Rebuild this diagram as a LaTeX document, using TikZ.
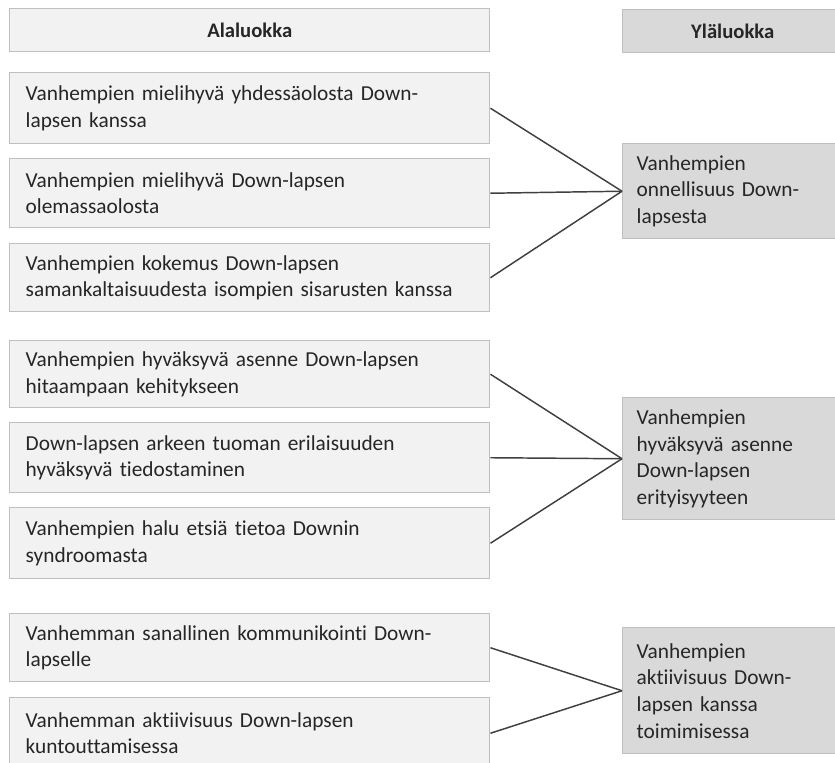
\documentclass[tikz,border=0pt]{standalone}
\usepackage{fontspec}
\setmainfont{Carlito}[Ligatures={NoCommon}]
\definecolor{alafill}{HTML}{F2F2F2}
\definecolor{ylafill}{HTML}{D9D9D9}
\definecolor{reuna}{HTML}{BFBFBF}
\definecolor{viiva}{HTML}{404040}
\tikzset{
  ala/.style={draw=reuna, line width=1.1pt, fill=alafill, anchor=north west,
    text width=336pt, inner xsep=12pt, inner ysep=0pt, align=left, text=black!85,
    font=\fontsize{16pt}{20pt}\selectfont},
  yla/.style={ala, fill=ylafill, text width=144pt, inner xsep=10.5pt},
  otsikko/.style={align=center, font=\fontsize{15.5pt}{20pt}\selectfont\bfseries},
  yhteys/.style={viiva, line width=1.1pt}
}
\begin{document}
\begin{tikzpicture}[x=0.75pt,y=-0.75pt]
\path[use as bounding box, clip] (0,0) rectangle (835,763);
\fill[white] (0,0) rectangle (835,763);
% otsikot
\node[ala, otsikko, minimum height=32.25pt] (ala) at (9,8) {Alaluokka};
\node[yla, otsikko, minimum height=32.25pt] (yla) at (622,9) {Yläluokka};
% alaluokat
\node[ala, minimum height=53.25pt] (b1) at (9,72) {Vanhempien mielihyvä yhdessäolosta Down-\\lapsen kanssa};
\node[ala, minimum height=51.75pt] (b2) at (9,158) {Vanhempien mielihyvä Down-lapsen\\olemassaolosta};
\node[ala, minimum height=51pt] (b3) at (9,243) {Vanhempien kokemus Down-lapsen\\samankaltaisuudesta isompien sisarusten kanssa};
\node[ala, minimum height=50.25pt] (b4) at (9,340) {Vanhempien hyväksyvä asenne Down-lapsen\\hitaampaan kehitykseen};
\node[ala, minimum height=52.5pt] (b5) at (9,422) {Down-lapsen arkeen tuoman erilaisuuden\\hyväksyvä tiedostaminen};
\node[ala, minimum height=53.25pt] (b6) at (9,507) {Vanhempien halu etsiä tietoa Downin\\syndroomasta};
\node[ala, minimum height=51pt] (b7) at (9,613) {Vanhemman sanallinen kommunikointi Down-\\lapselle};
\node[ala, minimum height=53.25pt] (b8) at (9,697) {Vanhemman aktiivisuus Down-lapsen\\kuntouttamisessa};
% yläluokat
\node[yla, minimum height=71.25pt] (y1) at (622,143) {Vanhempien\\onnellisuus Down-\\lapsesta};
\node[yla, minimum height=91.5pt] (y2) at (622,397) {Vanhempien\\hyväksyvä asenne\\Down-lapsen\\erityisyyteen};
\node[yla, minimum height=94.5pt] (y3) at (622,627) {Vanhempien\\aktiivisuus Down-\\lapsen kanssa\\toimimisessa};
% yhteydet
\foreach \i in {b1,b2,b3} \draw[yhteys] (\i.east)--(y1.west);
\foreach \i in {b4,b5,b6} \draw[yhteys] (\i.east)--(y2.west);
\foreach \i in {b7,b8} \draw[yhteys] (\i.east)--(y3.west);
\end{tikzpicture}
\end{document}
